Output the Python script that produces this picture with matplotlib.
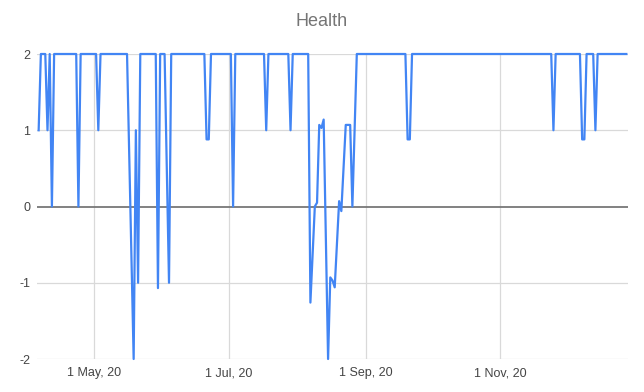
"""Health score over 2020, drawn as a Google-Sheets style line chart."""

import matplotlib
matplotlib.use("Agg")
import matplotlib.pyplot as plt
import pandas as pd


# Turning points (flat stretches sit at 2)
dates = [
    "2020-04-06", "2020-04-07", "2020-04-09", "2020-04-10", "2020-04-11", "2020-04-12", "2020-04-13",
    "2020-04-23", "2020-04-24", "2020-04-25",
    "2020-05-02", "2020-05-03", "2020-05-04",
    "2020-05-16", "2020-05-19", "2020-05-20", "2020-05-21", "2020-05-22",
    "2020-05-29", "2020-05-30", "2020-05-31", "2020-06-02", "2020-06-04", "2020-06-05",
    "2020-06-20", "2020-06-21", "2020-06-22", "2020-06-23",
    "2020-07-02", "2020-07-03", "2020-07-04",
    "2020-07-17", "2020-07-18", "2020-07-19",
    "2020-07-28", "2020-07-29", "2020-07-30",
    "2020-08-06", "2020-08-07", "2020-08-09", "2020-08-10", "2020-08-11", "2020-08-12", "2020-08-13",
    "2020-08-15", "2020-08-16", "2020-08-17", "2020-08-18", "2020-08-20", "2020-08-21",
    "2020-08-23", "2020-08-25", "2020-08-26", "2020-08-28",
    "2020-09-19", "2020-09-20", "2020-09-21", "2020-09-22",
    "2020-11-24", "2020-11-25", "2020-11-26",
    "2020-12-07", "2020-12-08", "2020-12-09", "2020-12-10",
    "2020-12-13", "2020-12-14", "2020-12-15",
    "2020-12-28",
]
health = [
    1, 2, 2, 1, 2, 0, 2,
    2, 0, 2,
    2, 1, 2,
    2, -2, 1, -1, 2,
    2, -1.07, 2, 2, -1, 2,
    2, 0.88, 0.88, 2,
    2, 0, 2,
    2, 1, 2,
    2, 1, 2,
    2, -1.26, 0.0, 0.05, 1.07, 1.03, 1.14,
    -2, -0.93, -0.97, -1.06, 0.07, -0.06,
    1.07, 1.07, 0, 2,
    2, 0.88, 0.88, 2,
    2, 1, 2,
    2, 0.88, 0.88, 2,
    2, 1, 2,
    2,
]

tick_dates = ["2020-05-01", "2020-07-01", "2020-09-01", "2020-11-01"]
tick_labels = ["1 May, 20", "1 Jul, 20", "1 Sep, 20", "1 Nov, 20"]
y_ticks = [-2, -1, 0, 1, 2]

LINE_COLOR = "#4285F4"
GRID_COLOR = "#d9d9d9"
TEXT_COLOR = "#444444"

plt.rcParams["font.family"] = ["Liberation Sans", "DejaVu Sans"]

x = pd.to_datetime(dates)
ticks = pd.to_datetime(tick_dates)

fig = plt.figure(figsize=(6.44, 3.92), dpi=100)
ax = fig.add_axes([37 / 644, 1 - 359 / 392, 591 / 644, 305 / 392])

# grid first so the series sits on top
for yv in y_ticks:
    if yv == 0:
        ax.axhline(yv, color="#777777", linewidth=1.3, zorder=1)
    else:
        ax.axhline(yv, color=GRID_COLOR, linewidth=0.9, zorder=0)
for t in ticks:
    ax.axvline(t, color=GRID_COLOR, linewidth=0.9, zorder=0)

ax.plot(x, health, color=LINE_COLOR, linewidth=1.6, solid_joinstyle="round",
        clip_on=False, zorder=2)

pad = pd.Timedelta(hours=18)
ax.set_xlim(x[0] - pad, x[-1] + pad)
ax.set_ylim(-2, 2)
ax.set_yticks(y_ticks)
ax.set_yticklabels([str(v) for v in y_ticks])
ax.set_xticks(ticks)
ax.set_xticklabels(tick_labels)

ax.tick_params(axis="both", length=0, labelsize=9, labelcolor=TEXT_COLOR)
ax.tick_params(axis="y", pad=5)
ax.tick_params(axis="x", pad=6)
for side in ["top", "right", "bottom", "left"]:
    ax.spines[side].set_visible(False)
ax.set_facecolor("white")

fig.text(0.5, 1 - 22 / 392, "Health", ha="center", va="center",
         fontsize=13, color="#757575")

fig.savefig("out.png", dpi=100)
plt.close(fig)
